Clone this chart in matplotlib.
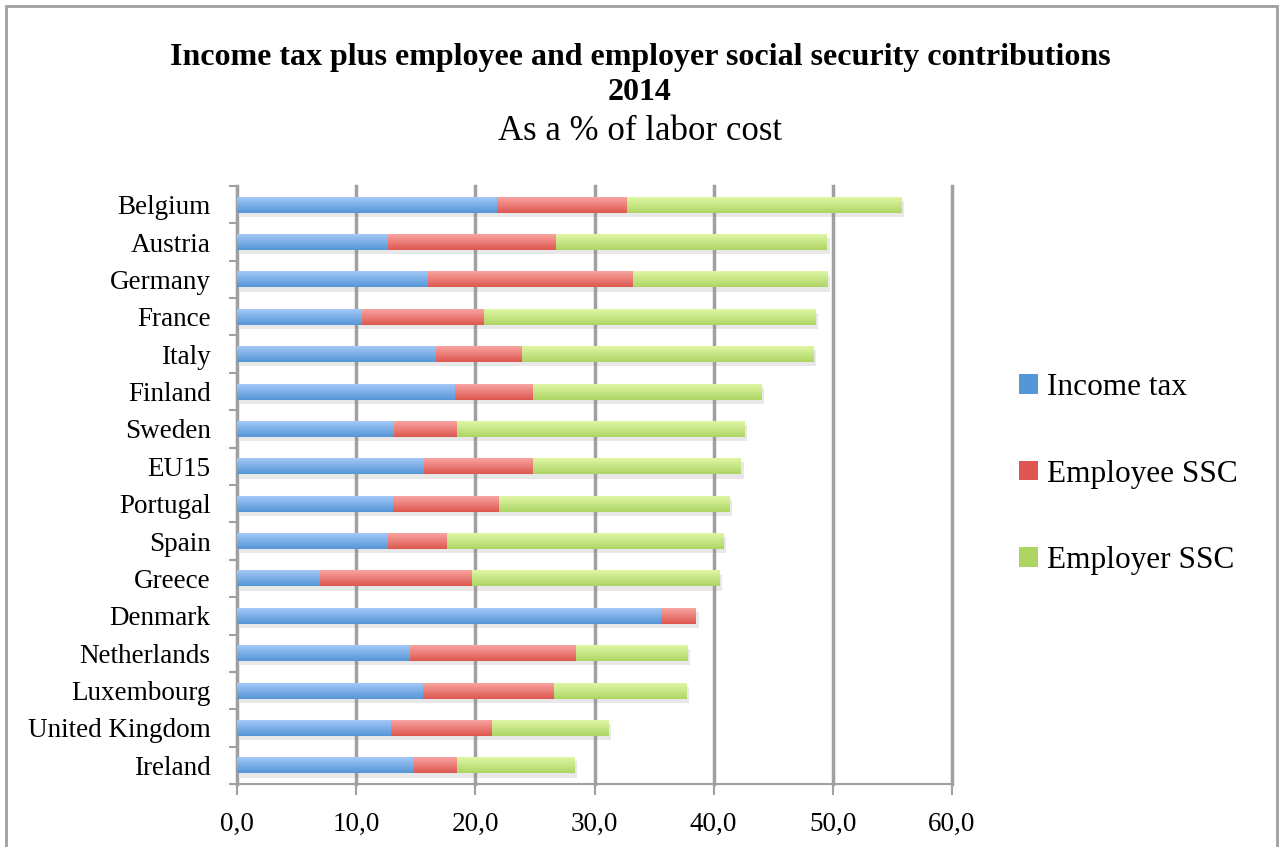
import numpy as np
import matplotlib
matplotlib.use("Agg")
import matplotlib.pyplot as plt
import matplotlib.patheffects as pe
from matplotlib.patches import Rectangle, Patch
from matplotlib.colors import LinearSegmentedColormap

# data (bottom to top)
countries = ["Ireland", "United Kingdom", "Luxembourg", "Netherlands", "Denmark",
             "Greece", "Spain", "Portugal", "EU15", "Sweden", "Finland", "Italy",
             "France", "Germany", "Austria", "Belgium"]
income_tax = [14.85, 12.9, 15.6, 14.5, 35.6, 7.0, 12.7, 13.05, 15.7, 13.2, 18.3,
              16.7, 10.5, 16.0, 12.7, 21.8]
employee_ssc = [3.6, 8.5, 11.0, 13.95, 2.9, 12.7, 4.9, 8.9, 9.15, 5.3, 6.5,
                7.2, 10.2, 17.2, 14.1, 10.9]
employer_ssc = [9.85, 9.75, 11.1, 9.35, 0.0, 20.8, 23.2, 19.35, 17.45, 24.1, 19.2,
                24.45, 27.8, 16.3, 22.7, 23.0]
series_names = ["Income tax", "Employee SSC", "Employer SSC"]
xticks = [0, 10, 20, 30, 40, 50, 60]

# (top colour, bottom colour) for each series
grads = [("#a8cbfa", "#5596d6"), ("#fba9a5", "#dd5750"), ("#e2f9a9", "#aed564")]
serif = "Liberation Serif"

fig = plt.figure(figsize=(12.8, 8.47), dpi=100)
ax = fig.add_axes([237 / 1280, 1 - 784 / 847, 715 / 1280, 598 / 847])

y = np.arange(len(countries))
h = 0.43
left = np.zeros(len(countries))
for vals, (top, bot), name in zip([income_tax, employee_ssc, employer_ssc], grads, series_names):
    vals = np.array(vals)
    bars = ax.barh(y, vals, height=h, left=left, color=bot, zorder=3,
                   path_effects=[pe.SimplePatchShadow(offset=(2, -3), shadow_rgbFace="#909090", alpha=0.2),
                                 pe.Normal()])
    cmap = LinearSegmentedColormap.from_list(name, [bot, top])
    grad = np.linspace(0, 1, 64).reshape(-1, 1)
    for b, l, v, yy in zip(bars, left, vals, y):
        if v <= 0:
            continue
        im = ax.imshow(grad, cmap=cmap, aspect="auto", origin="lower",
                       extent=(l, l + v, yy - h / 2, yy + h / 2), zorder=4,
                       interpolation="bilinear")
        im.set_clip_path(b)
    left = left + vals

ax.set_xlim(0, 60)
ax.set_ylim(-0.5, len(countries) - 0.5)
ax.set_xticks(xticks)
ax.set_xticklabels([f"{t:.1f}".replace(".", ",") for t in xticks], fontsize=19.5, family=serif)
ax.set_yticks(y)
ax.set_yticklabels(countries, fontsize=19.5, family=serif)
ax.set_yticks(np.arange(-0.5, len(countries), 1), minor=True)
ax.tick_params(axis="y", which="major", length=0, pad=19)
ax.tick_params(axis="y", which="minor", length=6, color="#a0a0a0", width=1.5)
ax.tick_params(axis="x", length=8, color="#a0a0a0", width=1.5, pad=12)

ax.grid(axis="x", color="#a0a0a0", linewidth=2.5, zorder=1)
for gl in ax.get_xgridlines():
    gl.set_clip_on(False)
ax.set_axisbelow(True)
for s in ["top", "right"]:
    ax.spines[s].set_visible(False)
for s in ["left", "bottom"]:
    ax.spines[s].set_color("#a0a0a0")
    ax.spines[s].set_linewidth(1.5)

# titles
fig.text(0.5, 1 - 58 / 847, "Income tax plus employee and employer social security contributions",
         ha="center", va="center", fontsize=23, fontweight="bold", family=serif)
fig.text(0.5, 1 - 93 / 847, "2014", ha="center", va="center", fontsize=23,
         fontweight="bold", family=serif)
fig.text(0.5, 1 - 131 / 847, "As a % of labor cost", ha="center", va="center",
         fontsize=25, family=serif)

handles = [Patch(facecolor=c[1], edgecolor="none") for c in grads]
fig.legend(handles, series_names, loc="center left", bbox_to_anchor=(991 / 1280, 1 - 474 / 847),
           frameon=False, prop={"family": serif, "size": 22.5}, handlelength=0.6,
           handleheight=0.6, handletextpad=0.3, labelspacing=1.84)

# outer chart border
fig.add_artist(Rectangle((6 / 1280, -0.01), 1271 / 1280, 1 - 6 / 847 + 0.01,
                         transform=fig.transFigure, fill=False, edgecolor="#a0a0a0", linewidth=2))

fig.savefig("out.png", dpi=100)
